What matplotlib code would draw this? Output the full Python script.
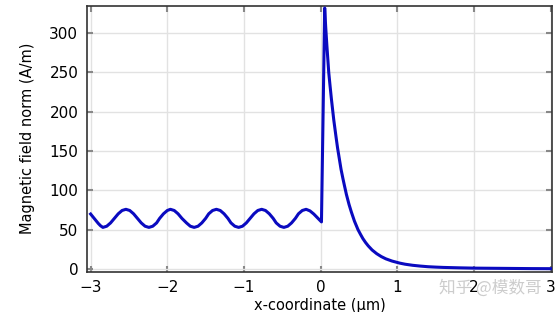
import matplotlib.pyplot as plt

# magnetic field norm along the x cut line
x_um = [-3.0, -2.95, -2.90, -2.87, -2.84,
        -2.79, -2.74, -2.69, -2.64, -2.59, -2.54,
        -2.49, -2.44, -2.39, -2.34, -2.29, -2.24,
        -2.19, -2.14, -2.10, -2.05, -2.00, -1.96,
        -1.91, -1.86, -1.81, -1.75, -1.70, -1.65,
        -1.60, -1.55, -1.50, -1.46, -1.41, -1.36,
        -1.31, -1.26, -1.21, -1.17, -1.12, -1.07,
        -1.02, -0.97, -0.92, -0.87, -0.82, -0.77,
        -0.72, -0.67, -0.62, -0.58, -0.53, -0.48,
        -0.43, -0.38, -0.33, -0.29, -0.24, -0.19,
        -0.14, -0.09, -0.04, 0.01,
        0.052, 0.065, 0.08, 0.095, 0.105, 0.12, 0.14, 0.17, 0.20, 0.22,
        0.24, 0.265, 0.29, 0.31, 0.335, 0.37, 0.40, 0.44, 0.487, 0.52,
        0.55, 0.585, 0.62, 0.67, 0.73, 0.79, 0.85, 0.93, 1.03, 1.1,
        1.2, 1.3, 1.4, 1.5, 1.6, 1.8, 2.0, 2.25, 2.5, 2.75, 3.0]
h_norm = [70, 64, 58, 55, 53,
          54.5, 58.7, 64.5, 70.3, 74.5, 76,
          74.5, 70.3, 64.5, 58.7, 54.5, 53,
          54.5, 58.7, 64.5, 70.3, 74.5, 76,
          74.5, 70.3, 64.5, 58.7, 54.5, 53,
          54.5, 58.7, 64.5, 70.3, 74.5, 76,
          74.5, 70.3, 64.5, 58.7, 54.5, 53,
          54.5, 58.7, 64.5, 70.3, 74.5, 76,
          74.5, 70.3, 64.5, 58.7, 54.5, 53,
          54.5, 58.7, 64.5, 70.3, 74.5, 76,
          74, 70, 65, 60,
          332, 308, 285, 264, 250, 235, 216, 190, 168, 154,
          142, 127, 115, 106, 95, 82, 72.5, 61, 50, 44,
          38.8, 33.8, 29.5, 24.3, 19.6, 15.9, 13, 10.2, 7.6, 6.2,
          4.8, 3.8, 3.0, 2.5, 2.1, 1.6, 1.2, 1.0, 0.8, 0.6, 0.5]

xticks = [-3, -2, -1, 0, 1, 2, 3]
yticks = [0, 50, 100, 150, 200, 250, 300]


def field_plot():
    fig = plt.figure(figsize=(5.59, 3.12), dpi=100)
    ax = fig.add_axes([0.155, 0.129, 0.833, 0.853])

    ax.plot(x_um, h_norm, color="#0a0ac0", lw=2.2, zorder=3,
            solid_joinstyle="round")

    ax.set_xlim(-3.052, 3.02)
    ax.set_ylim(-3.4, 335)
    ax.set_xticks(xticks)
    ax.set_yticks(yticks)
    ax.grid(True, color="#e2e2e2", lw=1)
    ax.set_axisbelow(True)
    ax.tick_params(direction="in", length=4, width=1.5, color="#888888",
                   top=True, right=True, labelsize=11, pad=6)
    for s in ax.spines.values():
        s.set_color("#333333")
        s.set_linewidth(1.2)

    ax.set_xlabel("x-coordinate (µm)", fontsize=10.5, labelpad=2)
    ax.set_ylabel("Magnetic field norm (A/m)", fontsize=10.5, labelpad=10)

    # watermark
    fig.text(0.877, 0.077, "知乎 @模数哥", fontsize=12, color="#c0c0c0",
             alpha=0.8, ha="center", va="center",
             family=["Noto Sans CJK SC", "DejaVu Sans"])

    fig.savefig("out.png", dpi=100)


if __name__ == "__main__":
    field_plot()
